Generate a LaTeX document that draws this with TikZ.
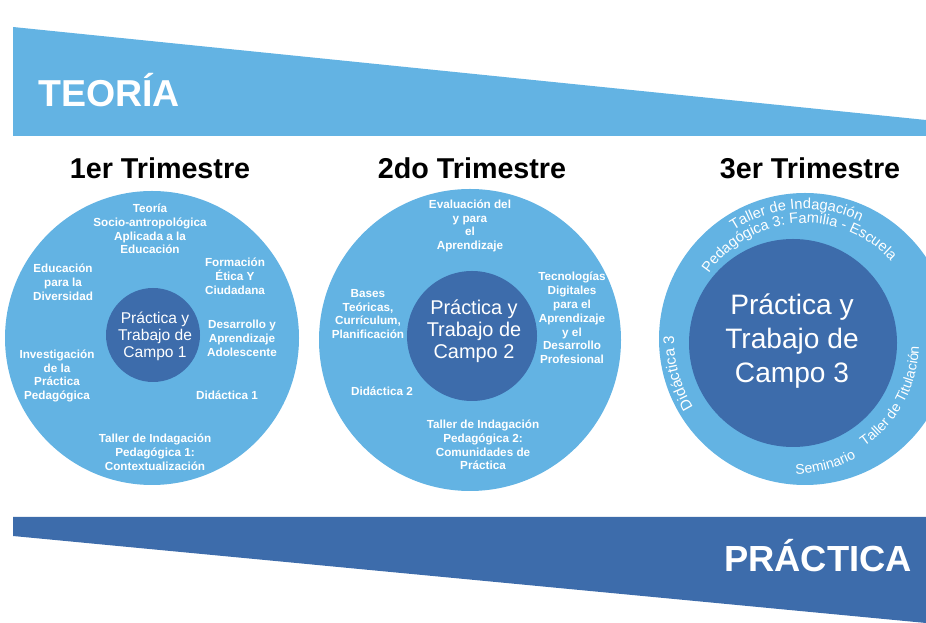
\documentclass[tikz,border=0pt]{standalone}
\usepackage{fontspec}
\setmainfont{Liberation Sans}
\usepackage{tikz}
\usetikzlibrary{decorations.text, calc}
\definecolor{teoriablue}{HTML}{63B3E3}
\definecolor{practicablue}{HTML}{3D6CAB}
\newcommand\arcfont{\color{white}\fontsize{12}{13}\selectfont}
\newcommand\arcfontbig{\color{white}\fontsize{12.5}{13}\selectfont}

\begin{document}
\begin{tikzpicture}[x=0.03cm, y=0.03cm,
    ringtext/.style={text=white, font=\bfseries\fontsize{10}{11.8}\selectfont, align=center, inner sep=0pt},
    coretext/.style={text=white, align=center, inner sep=0pt},
    trimtitle/.style={anchor=base, font=\bfseries\fontsize{24.5}{28}\selectfont, inner sep=0pt}]
  \useasboundingbox (0,0) rectangle (926,623);
  % bandas
  \fill[teoriablue] (13,596) -- (926,503) -- (926,487) -- (13,487) -- cycle;
  \fill[practicablue] (13,106) -- (926,106) -- (926,0) -- (13,87) -- cycle;
  \node[anchor=base west, inner sep=0pt, text=white, font=\bfseries\fontsize{32}{36}\selectfont] (teoria) at (38,516) {TEORÍA};
  \node[anchor=base, inner sep=0pt, text=white, font=\bfseries\fontsize{31}{36}\selectfont] (practica) at (818,51) {PRÁCTICA};

  % trimestre 1
  \coordinate (c1) at (152,285);
  \fill[teoriablue] (c1) circle[radius=147];
  \fill[practicablue] (153,288) circle[radius=47];
  \node[trimtitle] (t1) at (160,444) {1er Trimestre};
  \node[coretext, font=\fontsize{13.3}{14.5}\selectfont] (p1) at (155,287) {Práctica y\\Trabajo de\\Campo 1};
  \node[ringtext] (teo) at (150,394) {Teoría\\Socio-antropológica\\Aplicada a la\\Educación};
  \node[ringtext] (div) at (63,341) {Educación\\para la\\Diversidad};
  \node[ringtext] (eti) at (235,347) {Formación\\Ética Y\\Ciudadana};
  \node[ringtext] (ado) at (242,285) {Desarrollo y\\Aprendizaje\\Adolescente};
  \node[ringtext] (inv) at (57,247) {Investigación\\de la\\Práctica\\Pedagógica};
  \node[ringtext] (did1) at (227,228) {Didáctica 1};
  \node[ringtext] (tal1) at (155,171) {Taller de Indagación\\Pedagógica 1:\\Contextualización};

  % trimestre 2
  \coordinate (c2) at (470,283);
  \fill[teoriablue] (c2) circle[radius=151];
  \fill[practicablue] (472,287) circle[radius=65];
  \node[trimtitle] (t2) at (472,444) {2do Trimestre};
  \node[coretext, font=\fontsize{17}{19}\selectfont] (p2) at (474,292) {Práctica y\\Trabajo de\\Campo 2};
  \node[ringtext] (eva) at (470,397) {Evaluación del\\y para\\el\\Aprendizaje};
  \node[ringtext] (bas) at (368,309) {Bases\\Teóricas,\\Currículum,\\Planificación};
  \node[ringtext] (tec) at (572,305) {Tecnologías\\Digitales\\para el\\Aprendizaje\\y el\\Desarrollo\\Profesional};
  \node[ringtext] (did2) at (382,232) {Didáctica 2};
  \node[ringtext] (tal2) at (483,178) {Taller de Indagación\\Pedagógica 2:\\Comunidades de\\Práctica};

  % trimestre 3
  \coordinate (c3) at (805,284);
  \coordinate (c3in) at (793,280);
  \fill[teoriablue] (c3) circle[radius=146];
  \fill[practicablue] (c3in) circle[radius=104];
  \node[trimtitle] (t3) at (810,444) {3er Trimestre};
  \node[coretext, font=\fontsize{24}{29}\selectfont] (p3) at (792,282) {Práctica y\\Trabajo de\\Campo 3};
  \path[decorate, decoration={text along path, text align=center, text={|\arcfontbig|Taller de Indagación}}]
    ($(c3)+(140:130)$) arc[start angle=140, end angle=48, radius=130];
  \path[decorate, decoration={text along path, text align=center, text={|\arcfontbig|Pedagógica 3: Familia - Escuela}}]
    ($(c3)+(159:116)$) arc[start angle=159, end angle=29, radius=116];
  \path[decorate, decoration={text along path, text align=center, text={|\color{white}\fontsize{13}{14}\selectfont|Didáctica 3}}]
    ($(c3)+(225:131)$) arc[start angle=225, end angle=165, radius=131];
  \path[decorate, decoration={text along path, text align=center, text={|\arcfont|Seminario}}]
    ($(c3in)+(-100:131)$) arc[start angle=-100, end angle=-50, radius=131];
  \path[decorate, decoration={text along path, text align=center, text={|\arcfont|Taller de Titulación}}]
    ($(c3in)+(-70:126)$) arc[start angle=-70, end angle=13, radius=126];
\end{tikzpicture}
\end{document}
